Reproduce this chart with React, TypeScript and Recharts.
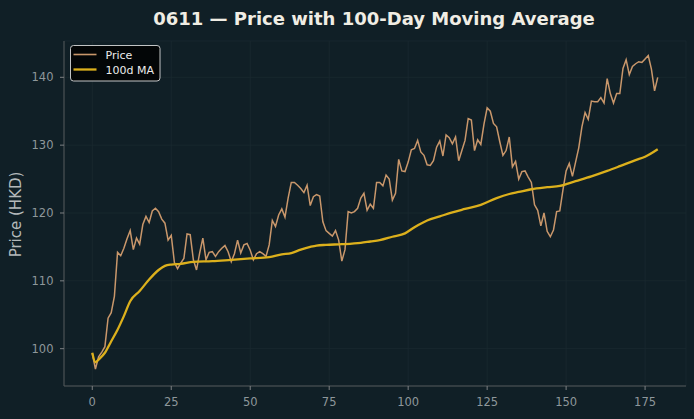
import React from 'react';
import { ComposedChart, Line, XAxis, YAxis, CartesianGrid, Legend } from 'recharts';

// Daily closing price (HKD), day index 0..179
const price: number[] = [
  99.3, 97.0, 98.8, 99.5, 100.3, 104.5, 105.3, 107.7, 114.2, 113.7,
  114.8, 116.2, 117.4, 114.6, 116.3, 115.4, 118.3, 119.5, 118.6, 120.3,
  120.7, 120.2, 119.1, 118.5, 116.0, 116.7, 112.7, 111.8, 112.6, 113.3,
  116.9, 116.8, 113.1, 111.6, 114.1, 116.3, 113.1, 114.2, 114.3, 113.6,
  114.3, 114.8, 115.2, 114.3, 112.8, 114.0, 116.0, 114.1, 115.3, 115.5,
  114.5, 113.1, 114.0, 114.3, 114.0, 113.6, 115.3, 118.9, 118.0, 119.7,
  120.6, 119.4, 122.2, 124.5, 124.5, 124.1, 123.6, 123.0, 124.1, 121.1,
  122.4, 122.7, 122.5, 118.7, 117.4, 117.0, 116.6, 117.4, 116.0, 112.9,
  114.6, 120.2, 120.0, 120.2, 120.7, 122.2, 122.9, 120.4, 121.3, 120.7,
  124.5, 124.5, 124.0, 125.6, 125.0, 121.9, 122.9, 127.9, 126.2, 126.1,
  127.5, 129.3, 129.5, 130.7, 129.0, 128.5, 127.1, 127.0, 127.7, 129.7,
  130.6, 128.4, 131.5, 131.1, 130.2, 131.2, 127.7, 129.2, 130.7, 133.9,
  133.7, 129.2, 130.8, 130.1, 133.1, 135.5, 135.0, 133.2, 132.7, 130.5,
  128.5, 129.2, 131.2, 126.8, 127.6, 125.0, 126.1, 126.2, 125.3, 124.5,
  121.2, 120.4, 118.1, 120.0, 117.3, 116.5, 117.5, 120.2, 120.3, 123.4,
  126.2, 127.3, 125.4, 127.5, 129.6, 132.7, 134.8, 133.8, 136.5, 136.4,
  136.4, 137.0, 136.2, 139.8, 137.6, 136.2, 137.6, 137.6, 141.3, 142.6,
  140.4, 141.6, 142.0, 142.3, 142.2, 142.7, 143.2, 141.2, 138.0, 140.0,
];
const days: number[] = price.map((_, i) => i);

// 100-day moving average at these days
const maDays: number[] = [
  0, 1, 2, 4, 6, 8, 10, 12, 15, 18, 21, 23, 25, 28, 32, 38, 44, 50, 56, 60,
  63, 66, 69, 71, 74, 79, 85, 88, 91, 95, 99, 102, 106, 110, 114, 118, 123,
  128, 132, 135, 139, 144, 148, 153, 158, 163, 167, 172, 175, 179,
];
const maValues: number[] = [
  99.4, 98.0, 98.4, 99.4, 101.1, 102.8, 104.8, 107.0, 108.5, 110.2, 111.6,
  112.2, 112.4, 112.5, 112.8, 112.9, 113.1, 113.3, 113.5, 113.9,
  114.1, 114.6, 115.0, 115.2, 115.3, 115.4, 115.6, 115.8, 116.0, 116.5, 117.0,
  117.9, 118.9, 119.5, 120.1, 120.6, 121.2,
  122.2, 122.8, 123.1, 123.5, 123.8, 124.0, 124.7, 125.4, 126.2, 126.9, 127.8, 128.3, 129.4,
];

const xTicks: number[] = [0, 25, 50, 75, 100, 125, 150, 175];
const yTicks: number[] = [100, 110, 120, 130, 140];

const TITLE = '0611 \u2014 Price with 100-Day Moving Average';
const Y_LABEL = 'Price (HKD)';
const PRICE_NAME = 'Price';
const MA_NAME = '100d MA';
const LEGEND_ORDER: string[] = [PRICE_NAME, MA_NAME];

const priceData = days.map((d, i) => ({ x: d, price: price[i] }));
const maData = maDays.map((d, i) => ({ x: d, ma: maValues[i] }));

const BG = '#101f26';
const PRICE_C = '#c9976b';
const MA_C = '#dcb01c';
const FONT = '"DejaVu Sans", Verdana, sans-serif';
const TICK_C = '#8e979b';
const SPINE_C = '#55585a';
const GRID_C = '#1a2930';

const YLabel = (props: any) => {
  const vb = props.viewBox || {};
  const cy = (vb.y ?? 41) + (vb.height ?? 345) / 2 + 1;
  const cx = 20.5;
  return (
    <text
      x={cx}
      y={cy}
      transform={`rotate(-90 ${cx} ${cy})`}
      textAnchor="middle"
      fill="#b4b9bb"
      fontSize={15}
      fontFamily={FONT}
    >
      {Y_LABEL}
    </text>
  );
};

const renderLegend = (props: any) => {
  const items = ([...(props.payload || [])] as any[]).sort(
    (a, b) => LEGEND_ORDER.indexOf(String(a.value)) - LEGEND_ORDER.indexOf(String(b.value))
  );
  return (
    <svg width={91} height={37} style={{ display: 'block', overflow: 'visible' }}>
      <rect x={0.5} y={0.5} width={89.5} height={35.5} rx={3} ry={3} fill="#030607" stroke="#c2c4c5" strokeWidth={1} />
      {items.map((it, k) => {
        const y = 9.5 + k * 15;
        const w = it.value === MA_NAME ? 2.3 : 1.6;
        return (
          <g key={String(it.value)}>
            <line x1={3.5} x2={26.5} y1={y} y2={y} stroke={it.color} strokeWidth={w} />
            <text x={35.5} y={y + 4} fill="#ececec" fontSize={11} fontFamily={FONT}>
              {it.value}
            </text>
          </g>
        );
      })}
    </svg>
  );
};

export default function App() {
  return (
    <div
      style={{
        position: 'absolute',
        left: 0,
        top: 0,
        width: 694,
        height: 419,
        background: BG,
        overflow: 'hidden',
      }}
    >
      <svg
        width={694}
        height={40}
        style={{ position: 'absolute', left: 0, top: 0, pointerEvents: 'none' }}
      >
        <text
          x={374}
          y={24.5}
          textAnchor="middle"
          fill="#f0ede4"
          fontSize={18}
          fontWeight="bold"
          fontFamily={FONT}
        >
          {TITLE}
        </text>
      </svg>
      <ComposedChart
        width={694}
        height={419}
        margin={{ top: 41, right: 8, bottom: 0, left: 0 }}
        style={{ fontFamily: FONT }}
      >
        <CartesianGrid stroke={GRID_C} strokeWidth={0.8} />
        <XAxis
          type="number"
          dataKey="x"
          domain={[-8.95, 187.95]}
          ticks={xTicks}
          interval={0}
          allowDataOverflow
          height={33}
          tickSize={4}
          tickMargin={8}
          tick={{ fill: TICK_C, fontSize: 11.5, fontFamily: FONT }}
          tickLine={{ stroke: '#7d8083' }}
          axisLine={{ stroke: SPINE_C }}
        />
        <YAxis
          type="number"
          domain={[94.5, 145.35]}
          ticks={yTicks}
          interval={0}
          allowDataOverflow
          width={64}
          tickSize={4}
          tickMargin={6.5}
          tick={{ fill: TICK_C, fontSize: 11.5, fontFamily: FONT }}
          tickLine={{ stroke: '#7d8083' }}
          axisLine={{ stroke: SPINE_C }}
          label={<YLabel />}
        />
        <Legend
          layout="horizontal"
          verticalAlign="middle"
          align="center"
          content={renderLegend}
          wrapperStyle={{ position: 'absolute', left: 70, top: 45, width: 91, height: 37 }}
        />
        <Line
          data={priceData}
          dataKey="price"
          name={PRICE_NAME}
          type="linear"
          stroke={PRICE_C}
          strokeWidth={1.5}
          dot={false}
          activeDot={false}
          isAnimationActive={false}
        />
        <Line
          data={maData}
          dataKey="ma"
          name={MA_NAME}
          type="monotone"
          stroke={MA_C}
          strokeWidth={2.3}
          dot={false}
          activeDot={false}
          isAnimationActive={false}
        />
      </ComposedChart>
    </div>
  );
}
